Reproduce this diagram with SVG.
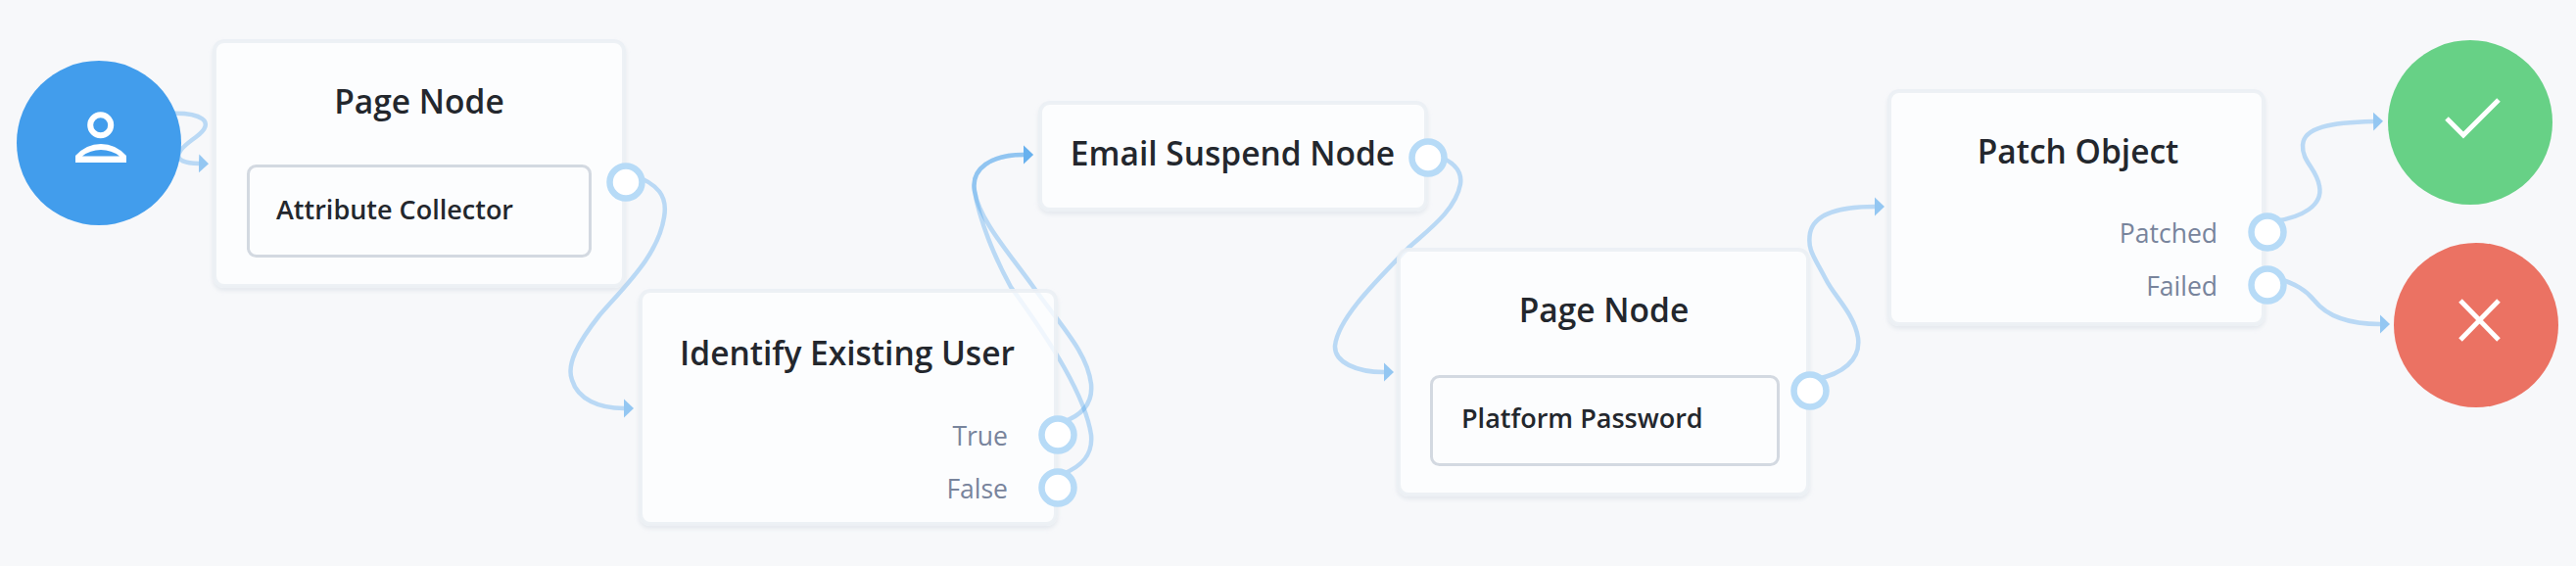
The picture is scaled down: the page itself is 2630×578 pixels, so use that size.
<svg xmlns="http://www.w3.org/2000/svg" width="2630" height="578" viewBox="0 0 2630 578">
<style>
text{font-family:"Open Sans","Noto Sans","Liberation Sans",sans-serif}
.title{font-size:33.500px;font-weight:600;fill:#23272d;text-anchor:middle}
.sub{font-size:27px;font-weight:600;fill:#23272d}
.lab{font-size:26.500px;font-weight:400;fill:#78849c;text-anchor:end}
.card{fill:#fff;fill-opacity:.78;stroke:#ebeff4;stroke-opacity:.9;stroke-width:4;filter:url(#sh)}
.inner{fill:none;stroke:#d3d9e1;stroke-width:3}
.port{fill:#fff;stroke:#b7dbf7;stroke-width:6.500}
.link{fill:none;stroke:#439eeb;stroke-opacity:.34;stroke-width:4.500;marker-end:url(#arr)}
.glyph{fill:none;stroke:#fff;stroke-width:5}
</style>
<defs>
<filter id="sh" x="-10%" y="-10%" width="120%" height="125%">
<feOffset in="SourceAlpha" dy="2.500"/><feGaussianBlur stdDeviation="2" result="b"/>
<feFlood flood-color="#c5cfda" flood-opacity=".4"/><feComposite in2="b" operator="in"/>
<feComposite in2="SourceAlpha" operator="out" result="s"/>
<feMerge><feMergeNode in="s"/><feMergeNode in="SourceGraphic"/></feMerge>
</filter>
<marker id="arr" markerUnits="userSpaceOnUse" markerWidth="11" markerHeight="20" refX="0" refY="10" orient="auto"><path d="M0 .5L10 10L0 19.500Z" fill="#439eeb" fill-opacity=".55"/></marker>
</defs>
<rect width="2630" height="578" fill="#f7f8fa"/>
<g id="connectors">
<path class="link" d="M170 116C205 114 222 124 200 140C180 154 172 166 203 167"/>
<path class="link" d="M645 178C672 188 682 200 678 222C672 260 640 290 612 322C590 350 578 372 584 388C590 408 612 417 637 417"/>
<path class="link" d="M1085 431C1105 424 1116 412 1114 392C1110 360 1085 335 1055 293C1030 258 1000 225 995 195C991 172 1012 158 1045 158"/>
<path class="link" d="M1085 484C1105 476 1116 464 1114 444C1108 405 1075 352 1032 293C1015 262 1000 225 995 195C991 172 1012 158 1045 158"/>
<path class="link" d="M1465 158C1485 165 1493 175 1491 188C1486 215 1458 235 1438 253C1405 287 1366 325 1363 353C1362 370 1385 380 1413 380"/>
<path class="link" d="M1855 387C1880 382 1900 368 1897 345C1893 320 1873 303 1864 285C1852 262 1845 255 1848 238C1852 218 1880 211 1914 211"/>
<path class="link" d="M2322 226C2350 222 2372 210 2368 190C2365 172 2350 165 2351 148C2352 130 2380 125 2423 124"/>
<path class="link" d="M2322 283C2345 290 2355 297 2363 307C2375 322 2395 331 2430 331"/>
</g>
<g id="start">
<circle cx="101" cy="146" r="84" fill="#429dec"/>
<circle cx="102.700" cy="127.700" r="10.500" fill="none" stroke="#fff" stroke-width="6"/>
<path fill="#fff" fill-rule="evenodd" d="M77 166V159Q88 147 103 147Q118 147 129 159V166ZM84 159.500H122Q114 153 103 153Q92 153 84 159.500Z"/>
</g>
<g id="page-node-1">
<rect class="card" x="219" y="42" width="418" height="250" rx="10"/>
<text class="title" x="428" y="116">Page Node</text>
<rect class="inner" x="253.500" y="169.500" width="349" height="92" rx="8"/>
<text class="sub" x="282" y="224">Attribute Collector</text>
<circle class="port" cx="639" cy="186" r="16.500"/>
</g>
<g id="identify-user">
<rect class="card" x="654" y="297" width="424" height="238" rx="10"/>
<text class="title" x="865" y="373">Identify Existing User</text>
<text class="lab" x="1029" y="455">True</text>
<text class="lab" x="1029" y="509">False</text>
<circle class="port" cx="1080" cy="444" r="16.500"/>
<circle class="port" cx="1080" cy="498" r="16.500"/>
</g>
<g id="email-suspend">
<rect class="card" x="1062" y="105" width="394" height="109" rx="10"/>
<text class="title" x="1258.500" y="169">Email Suspend Node</text>
<circle class="port" cx="1458" cy="161" r="16.500"/>
</g>
<g id="page-node-2">
<rect class="card" x="1428" y="255" width="418" height="250" rx="10"/>
<text class="title" x="1637.500" y="329">Page Node</text>
<rect class="inner" x="1461.500" y="384.500" width="354" height="90" rx="8"/>
<text class="sub" x="1492" y="437">Platform Password</text>
<circle class="port" cx="1848" cy="399" r="16.500"/>
</g>
<g id="patch-object">
<rect class="card" x="1929" y="93" width="382" height="238" rx="10"/>
<text class="title" x="2121.500" y="167">Patch Object</text>
<text class="lab" x="2264" y="248">Patched</text>
<text class="lab" x="2264" y="302">Failed</text>
<circle class="port" cx="2315" cy="237" r="16.500"/>
<circle class="port" cx="2315" cy="291" r="16.500"/>
</g>
<g id="success">
<circle cx="2522" cy="125" r="84" fill="#67d186"/>
<path class="glyph" d="M2498 121L2515 138L2551 102"/>
</g>
<g id="failure">
<circle cx="2528" cy="332" r="84" fill="#eb7263"/>
<path class="glyph" d="M2512 307L2551 347M2551 307L2512 347"/>
</g>
</svg>
